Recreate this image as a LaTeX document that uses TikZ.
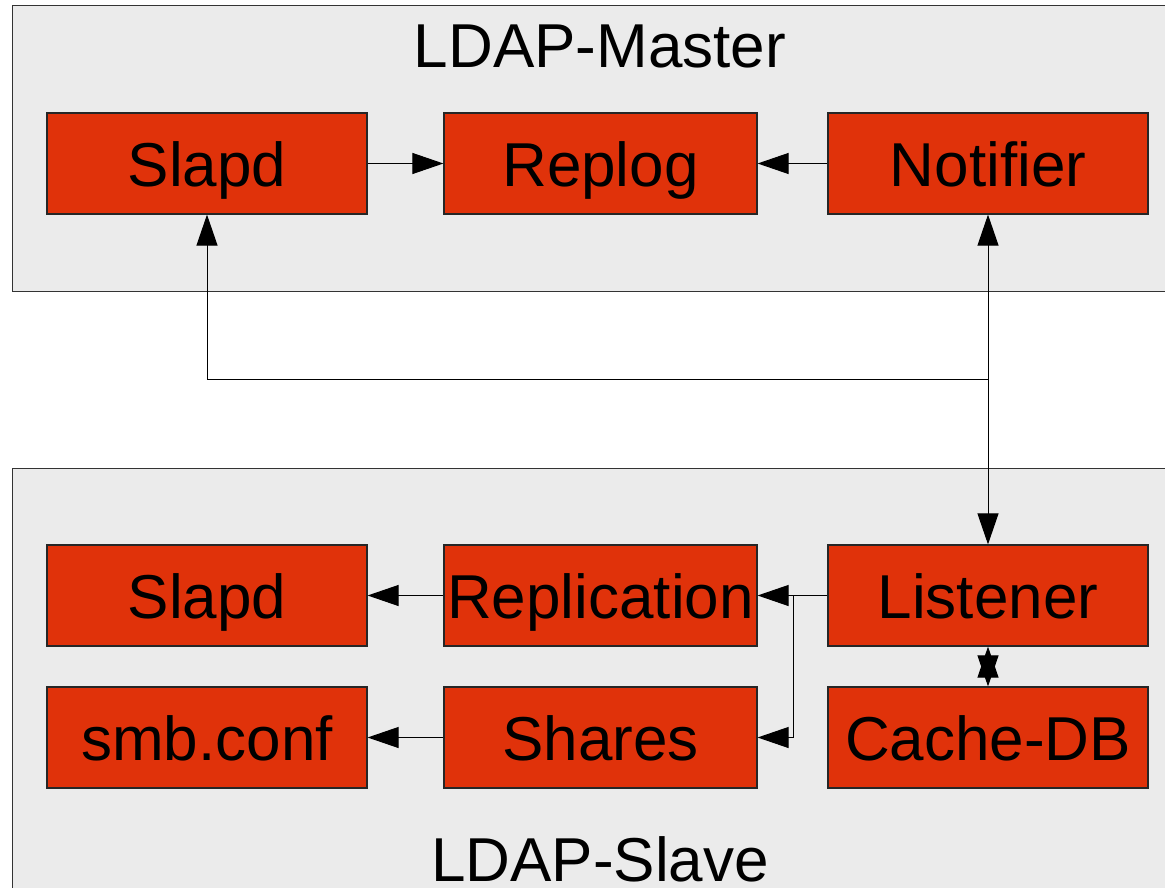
\documentclass[tikz,border=0pt]{standalone}
\usepackage{fontspec}
\setmainfont{Liberation Sans}
\usetikzlibrary{arrows.meta}
\definecolor{panelgray}{RGB}{235,235,235}
\definecolor{boxred}{RGB}{224,50,10}
\tikzset{
  panel/.style={draw=black!80, line width=1pt, fill=panelgray},
  comp/.style={draw=black!85, line width=1.2pt, fill=boxred, minimum height=101pt,
    inner sep=0pt, text height=45pt, text depth=0pt,
    font=\fontsize{62}{70}\selectfont},
  wide/.style={comp, minimum width=320pt},
  mid/.style={comp, minimum width=313pt},
  title/.style={font=\fontsize{62}{70}\selectfont, inner sep=0pt, text height=45pt, text depth=0pt},
  link/.style={line width=1pt, -{Triangle[length=31pt,width=21pt]}},
  twoway/.style={line width=1pt, {Triangle[length=31pt,width=21pt]}-{Triangle[length=31pt,width=21pt]}}
}
\begin{document}
\begin{tikzpicture}[x=1pt, y=-1pt]
\useasboundingbox (0,0) rectangle (1165,888);
\begin{scope}
\clip (0,0) rectangle (1165,888);
% panels
\draw[panel] (12,6) rectangle (1175,291);
\draw[panel] (12,468) rectangle (1175,900);
\end{scope}
\node[title] (mtitle) at (600,45) {LDAP-Master};
\node[title] (stitle) at (600,859) {LDAP-Slave};

% master side
\node[wide] (mslapd) at (207,163.5) {Slapd};
\node[mid]  (replog) at (600.5,163.5) {Replog};
\node[wide] (notifier) at (988,163.5) {Notifier};

% slave side
\node[wide] (sslapd) at (207,595.5) {Slapd};
\node[mid]  (replication) at (600.5,595.5) {Replication};
\node[wide] (listener) at (988,595.5) {Listener};
\node[wide] (smb) at (207,737.5) {smb.conf};
\node[mid]  (shares) at (600.5,737.5) {Shares};
\node[wide] (cache) at (988,737.5) {Cache-DB};

% connectors
\draw[link] (mslapd) -- (replog);
\draw[link] (notifier) -- (replog);
\draw[twoway] (notifier.south) -- (listener.north);
\coordinate (junction) at (listener.north |- 0,379);
\draw[link] (junction) -| (mslapd.south);
\draw[link] (listener) -- (replication);
\coordinate (branch) at (793,595.5);
\draw[link] (branch) |- (shares.east);
\draw[link] (replication) -- (sslapd);
\draw[link] (shares) -- (smb);
\draw[twoway] (listener.south) -- (cache.north);
\end{tikzpicture}
\end{document}
